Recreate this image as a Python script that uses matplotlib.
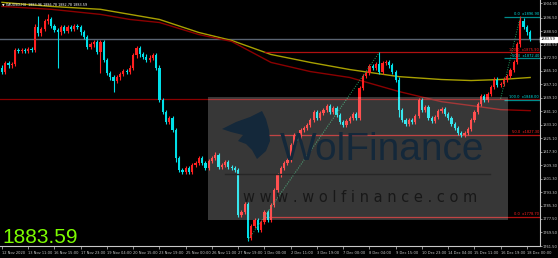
import matplotlib
matplotlib.use("Agg")
import matplotlib.pyplot as plt
from matplotlib.patches import Rectangle, Polygon

# --- data (XAUUSD, H4) ---
first_open = 1867.0
closes = [
    1864.6, 1869.9, 1868.2, 1869.3, 1877.6, 1876.5, 1877.6, 1876.5, 1878.2, 1877.6,
    1890.7, 1887.1, 1889.5, 1894.2, 1895.4, 1891.3, 1888.9, 1887.7, 1890.7, 1888.3,
    1890.7, 1889.5, 1891.3, 1890.7, 1887.7, 1885.3, 1879.4, 1880.6, 1881.8, 1875.9,
    1881.8, 1871.7, 1864.0, 1861.1, 1859.3, 1861.1, 1863.4, 1865.2, 1864.6, 1867.0,
    1874.1, 1878.8, 1874.7, 1873.5, 1871.7, 1872.9, 1874.1, 1867.0, 1848.0, 1840.9,
    1835.0, 1837.3, 1830.2, 1813.6, 1806.5, 1805.3, 1807.7, 1805.3, 1809.5, 1810.7,
    1813.6, 1810.7, 1807.7, 1811.9, 1813.6, 1815.4, 1808.3, 1809.5, 1811.3, 1808.3,
    1807.7, 1806.5, 1779.9, 1781.6, 1786.4, 1766.2, 1773.3, 1776.9, 1771.0, 1775.7,
    1781.6, 1776.9, 1785.8, 1794.7, 1803.6, 1807.7, 1810.7, 1812.5, 1821.3, 1827.3,
    1825.5, 1830.2, 1831.4, 1833.2, 1836.2, 1840.9, 1837.3, 1840.3, 1842.1, 1844.5,
    1840.9, 1843.3, 1839.1, 1835.0, 1833.2, 1835.6, 1837.3, 1839.7, 1837.3, 1855.1,
    1862.2, 1864.0, 1867.6, 1867.0, 1869.3, 1864.6, 1869.9, 1870.5, 1868.2, 1864.6,
    1859.9, 1842.1, 1836.2, 1833.8, 1836.2, 1835.0, 1838.5, 1848.0, 1842.1, 1843.9,
    1837.3, 1835.6, 1837.9, 1841.5, 1842.7, 1839.7, 1837.3, 1833.8, 1831.4, 1828.5,
    1827.3, 1828.5, 1830.8, 1836.2, 1840.9, 1845.6, 1850.4, 1848.0, 1851.6, 1855.7,
    1859.9, 1856.9, 1857.5, 1859.9, 1862.2, 1865.8, 1870.5, 1880.6, 1894.2, 1890.7,
    1887.7, 1883.59,
]
# long wicks (bar index -> price)
high_marks = {10: 1892.5, 11: 1897.2, 14: 1898.4, 41: 1879.5, 65: 1817.2,
              115: 1875.9, 158: 1897.2, 159: 1896.5}
low_marks = {17: 1867.0, 30: 1864.0, 34: 1852.8, 53: 1811.0, 75: 1764.5, 121: 1838.0}
wick = 1.2

# moving averages sampled at bars
ma_bars = [0, 15, 30, 39, 48, 60, 70, 82, 94, 106, 121, 134, 143, 152, 161]
ma_slow = [1905.5, 1903.1, 1901.4, 1898.4, 1895.4, 1887.7, 1883.0, 1874.7,
           1870.0, 1865.8, 1861.6, 1859.9, 1859.3, 1859.9, 1861.1]
ma_fast = [1903.1, 1901.4, 1898.4, 1895.4, 1893.6, 1886.5, 1882.4, 1870.0,
           1864.6, 1861.1, 1852.8, 1846.8, 1844.5, 1842.1, 1841.5]

last_price = 1883.59
support_line = 1848.6
red_fib = [("100.0", 1875.9), ("50.0", 1827.3), ("0.0", 1778.7)]
red_fib_start = 80
cyan_fib = [("0.0", 1896.9), ("50.0", 1872.4), ("100.0", 1848.0)]
cyan_fib_start = 153
trend1 = ([75, 115], [1765.0, 1875.9])
trend2 = ([152, 158], [1848.6, 1897.0])

price_ticks = [1904.90, 1896.50, 1888.50, 1880.50, 1872.90, 1865.10, 1857.10,
               1849.10, 1841.10, 1833.10, 1825.10, 1817.30, 1809.30, 1801.30,
               1793.30, 1785.30, 1777.50, 1769.50, 1761.50]
date_labels = ["12 Nov 2020", "13 Nov 11:00", "16 Nov 15:00", "17 Nov 23:00",
               "19 Nov 04:00", "20 Nov 15:00", "23 Nov 19:00", "25 Nov 00:00",
               "26 Nov 11:00", "27 Nov 19:00", "1 Dec 00:00", "2 Dec 11:00",
               "3 Dec 19:00", "7 Dec 00:00", "8 Dec 04:00", "9 Dec 15:00",
               "10 Dec 23:00", "14 Dec 04:00", "15 Dec 11:00", "16 Dec 19:00",
               "18 Dec 00:00"]
bars_per_label = 8

BULL = "#ff2020"
BEAR = "#00dfe8"
AX = "#c8c8c8"
SMALL = 2.6

fig = plt.figure(figsize=(5.58, 2.58), dpi=100, facecolor="black")
ax = fig.add_axes([0, 12 / 258, 540 / 558, 246 / 258], facecolor="black")

opens = [first_open] + closes[:-1]
for i, (o, c) in enumerate(zip(opens, closes)):
    col = BULL if c >= o else BEAR
    hi = high_marks.get(i, max(o, c) + wick)
    lo = low_marks.get(i, min(o, c) - wick)
    ax.vlines(i, lo, hi, color=col, lw=0.8, zorder=3)
    ax.bar(i, max(abs(c - o), 0.4), bottom=min(o, c), width=0.68,
           color=col, edgecolor=col, lw=0, zorder=4)

ax.plot(ma_bars, ma_slow, color="#a8a000", lw=1.0, zorder=2)
ax.plot(ma_bars, ma_fast, color="#8b0000", lw=1.0, zorder=2)

ax.axhline(last_price, color="#5a6472", lw=1.0, zorder=1)
ax.axhline(support_line, color="#8b0000", lw=0.9, zorder=1)
for name, lvl in red_fib:
    ax.hlines(lvl, red_fib_start, 164, color="#b01010", lw=0.9, zorder=2)
    ax.text(163.7, lvl + 0.4, f"{name}  x{lvl:.2f}", color="#ff2020",
            fontsize=SMALL, ha="right", va="bottom", zorder=6)
for name, lvl in cyan_fib:
    ax.hlines(lvl, cyan_fib_start, 164, color="#008b8b", lw=0.9, zorder=2)
    ax.text(163.7, lvl + 0.4, f"{name}  x{lvl:.2f}", color="#00e0e0",
            fontsize=SMALL, ha="right", va="bottom", zorder=6)
ax.plot(*trend1, color="#20a060", lw=0.7, ls=(0, (1, 1.5)), zorder=5)
ax.plot(*trend2, color="#20a060", lw=0.7, ls=(0, (1, 1.5)), zorder=5)

ax.set_xlim(-0.61, 164.0)
ax.set_ylim(1761.5, 1906.9)

for s in ["top", "left"]:
    ax.spines[s].set_visible(False)
for s in ["right", "bottom"]:
    ax.spines[s].set_color(AX)
    ax.spines[s].set_linewidth(0.8)
ax.yaxis.tick_right()
ax.set_yticks(price_ticks)
ax.set_yticklabels([f"{p:.2f}" for p in price_ticks])
ax.tick_params(axis="y", colors=AX, labelsize=SMALL, length=1.2, width=0.5, pad=0.6)
label_pos = [k * bars_per_label for k in range(len(date_labels))]
ax.set_xticks(label_pos)
ax.set_xticklabels(date_labels, ha="left")
ax.tick_params(axis="x", colors=AX, labelsize=SMALL, length=2, width=0.5, pad=1.5)

# current price tag
ax.text(164.3, last_price, f"{last_price:.2f}", fontsize=SMALL, color="black",
        va="center", ha="left", clip_on=False, zorder=7,
        bbox=dict(boxstyle="square,pad=0.2", fc="white", ec="white"))

# overlay in pixel coordinates
ov = fig.add_axes([0, 0, 1, 1], facecolor="none")
ov.set_xlim(0, 558)
ov.set_ylim(258, 0)
ov.axis("off")
ov.add_patch(Rectangle((208, 97), 300, 123, fc="white", alpha=0.22, lw=0))
ov.add_patch(Polygon([(222, 129), (236, 122), (250, 117), (262, 111), (266, 119),
                      (269, 130), (270, 141), (266, 151), (257, 159), (252, 150),
                      (246, 144), (238, 141), (243, 135), (231, 132)],
                     closed=True, fc="#14283a", ec="none"))
ov.text(280, 160, "WolFinance", fontsize=28, color="#14283a",
        family="Liberation Sans", ha="left", va="baseline")
ov.plot([225, 490], [174, 174], color="#262626", lw=1.0)
ov.text(360, 197, "w w w . w o l f i n a n c e . c o m", fontsize=10.5,
        color="#181818", ha="center", va="center")

ov.text(2, 243, f"{last_price:.2f}", fontsize=15, color="#7cfc00",
        family="Liberation Sans", ha="left", va="baseline")
ov.text(2, 5, "\u25bc XAUUSD,H4  1883.96 1886.78 1882.78 1883.59", fontsize=2.4,
        color="white", ha="left", va="center")

fig.savefig("out.png", dpi=100, facecolor="black")
